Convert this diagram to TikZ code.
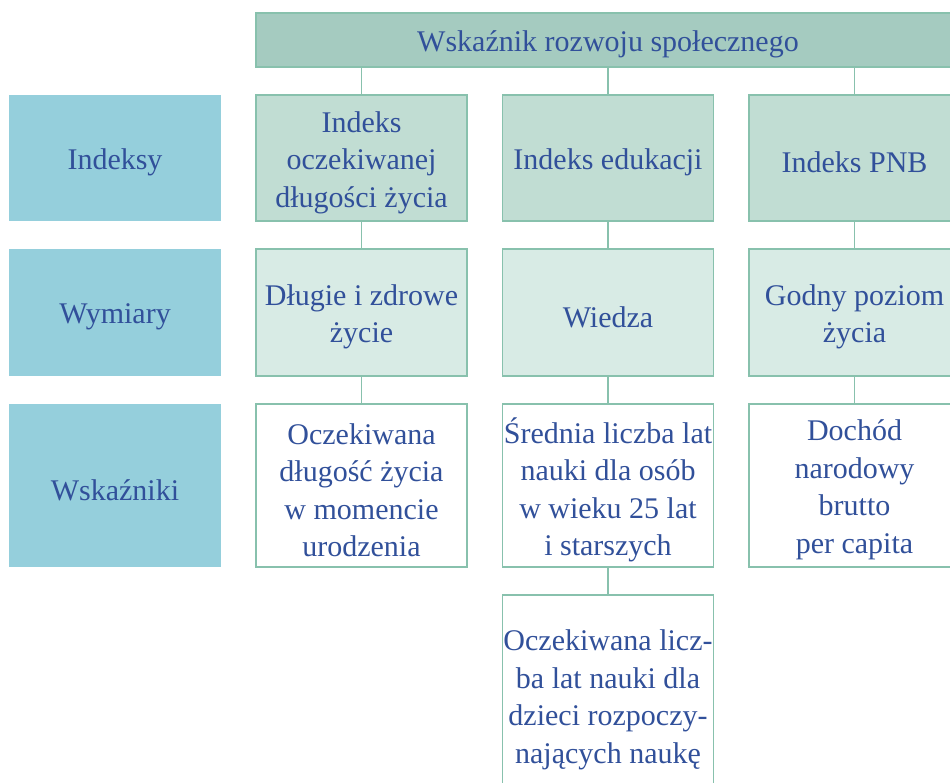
\documentclass[tikz,border=0pt]{standalone}
\usepackage{fontspec}
\setmainfont{Liberation Serif}
\definecolor{txtblue}{HTML}{31509A}
\definecolor{edgegreen}{HTML}{88C1AD}
\definecolor{topfill}{HTML}{A5CBC0}
\definecolor{idxfill}{HTML}{C1DDD3}
\definecolor{dimfill}{HTML}{D8EBE5}
\definecolor{labfill}{HTML}{95CFDC}
\tikzset{
  boxtext/.style={rectangle, inner sep=0pt, align=center, text=txtblue,
    font=\fontsize{30}{37.5}\selectfont},
  basebox/.style={rectangle, inner sep=0pt},
  greenbox/.style={basebox, draw=edgegreen, line width=1.6pt},
  topbox/.style={greenbox, fill=topfill, minimum width=704pt, minimum height=54pt},
  idxbox/.style={greenbox, fill=idxfill, minimum width=211pt, minimum height=126pt},
  dimbox/.style={greenbox, fill=dimfill, minimum width=211pt, minimum height=127pt},
  indbox/.style={greenbox, fill=white, minimum width=211pt, minimum height=163pt},
  labbox/.style={basebox, fill=labfill, minimum width=212pt},
  link/.style={draw=edgegreen, line width=1.6pt}
}
\begin{document}
\begin{tikzpicture}[x=1pt,y=-1pt]
\useasboundingbox (0,0) rectangle (950,782);
\clip (0,0) rectangle (950,782);
\fill[white] (0,0) rectangle (950,782);

% row labels
\node[labbox, minimum height=126pt] (lab1) at (115,158) {};
\node[labbox, minimum height=127pt] (lab2) at (115,312.5) {};
\node[labbox, minimum height=163pt] (lab3) at (115,485.5) {};

% top node
\node[topbox] (top) at (608,40) {};

% indices
\node[idxbox] (i1) at (361.5,158) {};
\node[idxbox] (i2) at (608,158) {};
\node[idxbox] (i3) at (854.5,158) {};

% dimensions
\node[dimbox] (d1) at (361.5,312.5) {};
\node[dimbox] (d2) at (608,312.5) {};
\node[dimbox] (d3) at (854.5,312.5) {};

% indicators
\node[indbox] (w1) at (361.5,485.5) {};
\node[indbox] (w2) at (608,485.5) {};
\node[indbox] (w3) at (854.5,485.5) {};
\node[indbox, minimum height=210pt] (w4) at (608,700) {};

% texts, set slightly below the box centres
\begin{scope}[every node/.append style={boxtext, yshift=-4.5pt}]
\node (lab1t) at (lab1) {Indeksy};
\node (lab2t) at (lab2) {Wymiary};
\node (lab3t) at (lab3) {Wskaźniki};
\node (topt) at (top) {Wskaźnik rozwoju społecznego};
\node (i1t) at (i1) {Indeks\\oczekiwanej\\długości życia};
\node (i2t) at (i2) {Indeks edukacji};
\node (i3t) at (i3) {Indeks PNB};
\node (d1t) at (d1) {Długie i zdrowe\\życie};
\node (d2t) at (d2) {Wiedza};
\node (d3t) at (d3) {Godny poziom\\życia};
\node (w1t) at (w1) {Oczekiwana\\długość życia\\w momencie\\urodzenia};
\node (w2t) at (w2) {Średnia liczba lat\\nauki dla osób\\w wieku 25 lat\\i starszych};
\node (w3t) at (w3) {Dochód\\narodowy\\brutto\\per capita};
\end{scope}
\node[boxtext] (w4t) at (w4) {Oczekiwana licz-\\ba lat nauki dla\\dzieci rozpoczy-\\nających naukę};

% connectors
\foreach \c in {1,2,3} {
  \draw[link] (top.south -| i\c.north) -- (i\c.north);
  \draw[link] (i\c.south) -- (d\c.north);
  \draw[link] (d\c.south) -- (w\c.north);
}
\draw[link] (w2.south) -- (w4.north);
\end{tikzpicture}
\end{document}
